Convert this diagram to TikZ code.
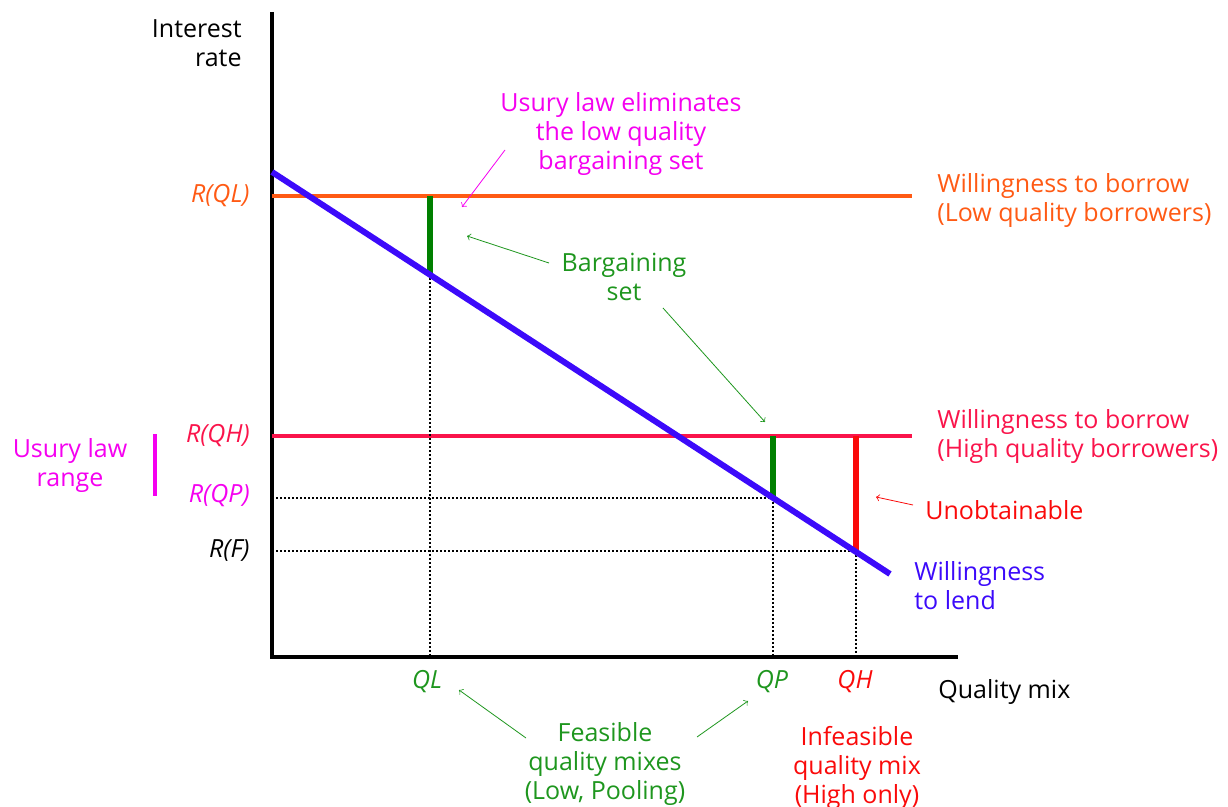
\documentclass[tikz,border=0pt]{standalone}
\usepackage{fontspec}
\setmainfont{Open Sans}
\usetikzlibrary{arrows}
\usetikzlibrary{calc}
\definecolor{lowq}{RGB}{255,90,20}
\definecolor{highq}{RGB}{250,20,75}
\definecolor{usury}{RGB}{245,0,240}
\definecolor{feas}{RGB}{30,150,30}
\definecolor{bargain}{RGB}{0,128,0}
\definecolor{lend}{RGB}{60,10,250}
\definecolor{infeas}{RGB}{250,10,10}

\begin{document}
\begin{tikzpicture}[x = .5pt, y = -.5pt, font = \fontsize{12.5}{14.5}\selectfont,
  every node/.style = {inner sep = 0pt},
  lbl/.style = {align = center},
  guide/.style = {dash pattern = on .9pt off 1.1pt, line width = .9pt},
  thinarr/.style = {->, thin, >=to}]
\useasboundingbox (0,0) rectangle (1228,807);
% axes
\coordinate (O) at (272,657);
\coordinate (ytop) at (272,12);
\coordinate (xend) at (958,657);
\draw[line width = 2pt] (ytop) -- (O) -- (xend);
\node[anchor = east, align = right] (yl) at (242,43) {Interest\\rate};
\node[anchor = west] (xl) at (938,692) {Quality mix};
% willingness to borrow
\draw[lowq, line width = 2pt] (272,196) -- (912,196);
\draw[highq, line width = 2pt] (272,436) -- (912,436);
% dotted guides
\draw[guide] (272,498) -- (773,498);
\draw[guide] (272,551) -- (856,551);
\draw[guide] (430,274) -- (430,657);
\draw[guide] (773,498) -- (773,657);
\draw[guide] (856,551) -- (856,657);
% bargaining sets
\draw[bargain, line width = 3pt] (430,196) -- (430,274);
\draw[bargain, line width = 3pt] (773,436) -- (773,498);
\draw[infeas, line width = 2.6pt] (856,436) -- (856,551);
% willingness to lend
\draw[lend, line width = 3pt] (272,172) -- (890,574);
% rate labels
\node[anchor = east, lowq] (rql) at (250,196) {\itshape R(QL)};
\node[anchor = east, highq] (rqh) at (250,436) {\itshape R(QH)};
\node[anchor = east, usury] (rqp) at (250,496) {\itshape R(QP)};
\node[anchor = east] (rf) at (250,551) {\itshape R(F)};
\node[lbl, usury] (range) at (70,466) {Usury law\\range};
\draw[usury, line width = 2pt] (155,434) -- (155,496);
% quality labels
\node[feas] (ql) at (427,682) {\itshape QL};
\node[feas] (qp) at (772,682) {\itshape QP};
\node[infeas] (qh) at (855,682) {\itshape QH};
% curve labels
\node[anchor = west, align = left, lowq] (wlow) at (937,201) {Willingness to borrow\\(Low quality borrowers)};
\node[anchor = west, align = left, highq] (whigh) at (937,437) {Willingness to borrow\\(High quality borrowers)};
\node[anchor = west, align = left, lend] (wlend) at (914,586) {Willingness\\to lend};
\node[anchor = west, infeas] (unob) at (925,510) {Unobtainable};
% notes
\node[lbl, usury] (elim) at (621,134) {Usury law eliminates\\the low quality\\bargaining set};
\node[lbl, feas] (bset) at (624,277) {Bargaining\\set};
\node[lbl, feas] (feasible) at (605,764) {Feasible\\quality mixes\\(Low, Pooling)};
\node[lbl, infeas] (infeasible) at (857,768) {Infeasible\\quality mix\\(High only)};
% arrows
\coordinate (elimA) at (505,150);
\coordinate (elimB) at (462,207);
\draw[thinarr, usury] (elimA) -- (elimB);
\coordinate (bsA) at (549,263);
\coordinate (bsB) at (467,236);
\draw[thinarr, feas] (bsA) -- (bsB);
\coordinate (bsC) at (663,308);
\coordinate (bsD) at (765,422);
\draw[thinarr, feas] (bsC) -- (bsD);
\coordinate (unA) at (913,505);
\coordinate (unB) at (876,497);
\draw[thinarr, infeas] (unA) -- (unB);
\coordinate (feA) at (526,738);
\coordinate (feB) at (459,690);
\draw[thinarr, feas] (feA) -- (feB);
\coordinate (feC) at (697,737);
\coordinate (feD) at (748,701);
\draw[thinarr, feas] (feC) -- (feD);
\end{tikzpicture}
\end{document}
